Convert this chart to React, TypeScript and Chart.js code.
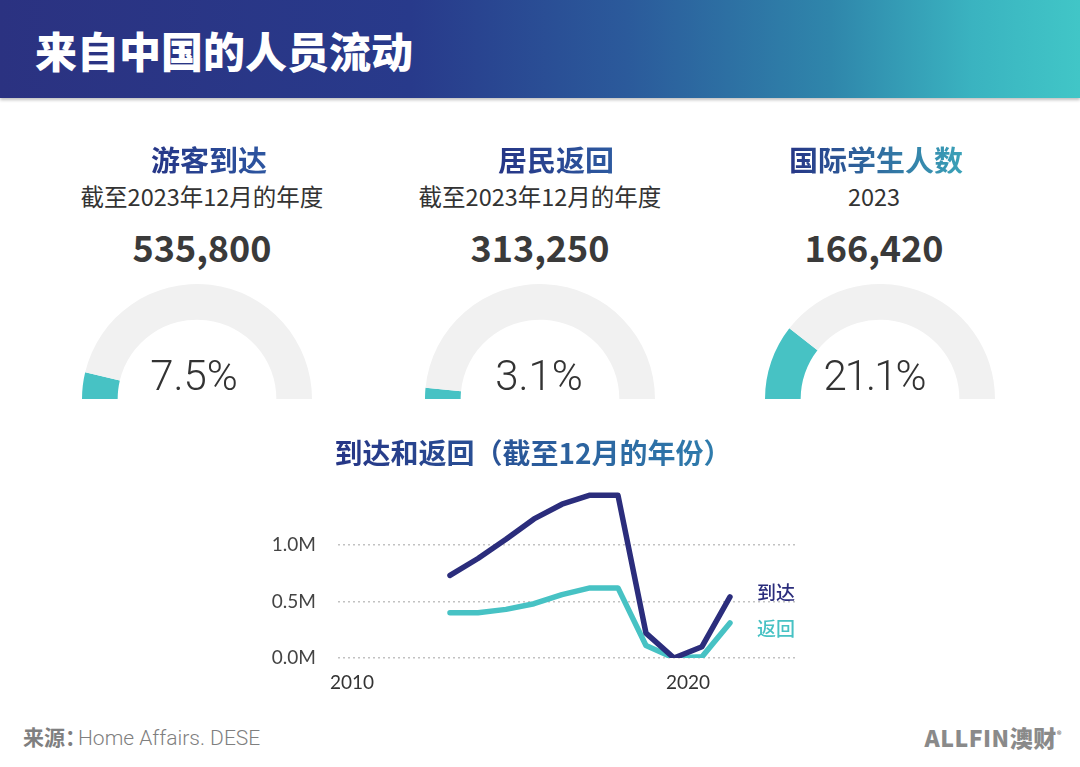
import React, { useEffect, useRef } from 'react';
import { Chart, registerables } from 'chart.js';

Chart.register(...registerables);

// ---- Data ----
const YEARS = [2013, 2014, 2015, 2016, 2017, 2018, 2019, 2020, 2021, 2022, 2023];
const ARRIVALS = [0.73, 0.88, 1.05, 1.23, 1.36, 1.44, 1.44, 0.22, 0.0, 0.1, 0.54];
const RETURNS = [0.4, 0.4, 0.43, 0.48, 0.56, 0.62, 0.62, 0.11, 0.0, 0.01, 0.31];
const SERIES_NAMES = ['到达', '返回'];
const Y_TICKS = [0, 0.5, 1.0];
const X_TICK_VALUES = [2009.5, 2021.5];
const X_TICK_LABELS = ['2010', '2020'];

const GAUGE_TITLES = ['游客到达', '居民返回', '国际学生人数'];
const GAUGE_SUBTITLES = ['截至2023年12月的年度', '截至2023年12月的年度', '2023'];
const GAUGE_NUMBERS = ['535,800', '313,250', '166,420'];
const GAUGE_PCTS = [7.5, 3.1, 21.1];

const NAVY = '#2b2d7c';
const TEAL = '#47c2c4';
const CJK = '"Noto Sans CJK SC", "Noto Sans", sans-serif';

const abs = (cx: number, cy: number, extra: React.CSSProperties): React.CSSProperties => ({
  position: 'absolute',
  left: cx,
  top: cy,
  transform: 'translate(-50%, -50%)',
  whiteSpace: 'nowrap',
  lineHeight: 1,
  fontFamily: CJK,
  ...extra,
});

const gradText = (from: string, to: string): React.CSSProperties => ({
  backgroundImage: `linear-gradient(90deg, ${from}, ${to})`,
  WebkitBackgroundClip: 'text',
  backgroundClip: 'text',
  color: 'transparent',
});

function Gauge({ pct, left, top }: { pct: number; left: number; top: number }) {
  const ref = useRef<HTMLCanvasElement>(null);
  useEffect(() => {
    if (!ref.current) return;
    const chart = new Chart(ref.current, {
      type: 'doughnut',
      data: {
        labels: ['value', 'rest'],
        datasets: [
          {
            data: [pct, 100 - pct],
            backgroundColor: [TEAL, '#f1f1f1'],
            borderWidth: 0,
            hoverOffset: 0,
          },
        ],
      },
      options: {
        responsive: false,
        animation: false,
        devicePixelRatio: 1,
        rotation: -90,
        circumference: 180,
        cutout: '69%',
        plugins: { legend: { display: false }, tooltip: { enabled: false } },
        events: [],
      },
    });
    return () => chart.destroy();
  }, [pct]);
  return (
    <canvas
      ref={ref}
      width={230}
      height={115}
      style={{ position: 'absolute', left, top, width: 230, height: 115 }}
    />
  );
}

function LineChart() {
  const ref = useRef<HTMLCanvasElement>(null);
  useEffect(() => {
    if (!ref.current) return;
    const endLabels = {
      id: 'endLabels',
      afterDatasetsDraw(chart: any) {
        const ctx = chart.ctx;
        const offsets = [-4, 6];
        const colors = [NAVY, TEAL];
        chart.data.datasets.forEach((_ds: any, i: number) => {
          const meta = chart.getDatasetMeta(i);
          const pt = meta.data[meta.data.length - 1];
          ctx.save();
          ctx.font = `500 19px ${CJK}`;
          ctx.fillStyle = colors[i];
          ctx.textAlign = 'left';
          ctx.textBaseline = 'middle';
          ctx.fillText(SERIES_NAMES[i], pt.x + 27, pt.y + offsets[i]);
          ctx.restore();
        });
      },
    };
    const chart = new Chart(ref.current, {
      type: 'line',
      data: {
        datasets: [
          {
            label: SERIES_NAMES[0],
            data: YEARS.map((y, i) => ({ x: y, y: ARRIVALS[i] })),
            borderColor: NAVY,
            borderWidth: 5.5,
            pointRadius: 0,
            tension: 0,
            borderJoinStyle: 'round',
            borderCapStyle: 'round',
          },
          {
            label: SERIES_NAMES[1],
            data: YEARS.map((y, i) => ({ x: y, y: RETURNS[i] })),
            borderColor: TEAL,
            borderWidth: 5.5,
            pointRadius: 0,
            tension: 0,
            borderJoinStyle: 'round',
            borderCapStyle: 'round',
          },
        ],
      },
      options: {
        responsive: false,
        animation: false,
        devicePixelRatio: 1,
        events: [],
        layout: { padding: { top: 0, right: 22, left: 0, bottom: 0 } },
        plugins: { legend: { display: false }, tooltip: { enabled: false } },
        scales: {
          x: {
            type: 'linear',
            min: 2009,
            max: 2025.43,
            grid: { display: false, drawTicks: false },
            border: { display: false },
            afterBuildTicks: (scale: any) => {
              scale.ticks = X_TICK_VALUES.map((v) => ({ value: v }));
            },
            afterFit: (scale: any) => {
              scale.height = 42;
            },
            ticks: {
              autoSkip: false,
              maxRotation: 0,
              padding: 13,
              color: '#333',
              font: { family: 'Lato', size: 19 },
              callback: (_v: any, i: number) => X_TICK_LABELS[i],
            },
          },
          y: {
            min: 0,
            max: 1.5,
            grid: { color: '#c2c2c2', lineWidth: 1.5, drawTicks: false },
            border: { display: false, dash: [2, 3] },
            afterBuildTicks: (scale: any) => {
              scale.ticks = Y_TICKS.map((v) => ({ value: v }));
            },
            afterFit: (scale: any) => {
              scale.width = 78;
            },
            ticks: {
              padding: 22,
              color: '#444',
              font: { family: 'Lato', size: 19 },
              callback: (v: any) => Number(v).toFixed(1) + 'M',
            },
          },
        },
      },
      plugins: [endLabels],
    });
    return () => chart.destroy();
  }, []);
  return (
    <canvas
      ref={ref}
      width={560}
      height={245}
      style={{ position: 'absolute', left: 260, top: 455, width: 560, height: 245 }}
    />
  );
}

export default function App() {
  const colCenters = [202, 540, 874];
  const titleCenters = [209, 556, 876];
  const gaugeCenters = [197, 540, 880];
  const pctCenters = [194, 539, 874];
  const titleGrads: [string, string][] = [
    ['#263586', '#2d56a0'],
    ['#263586', '#2d5aa0'],
    ['#263586', '#3aa2b8'],
  ];
  return (
    <div
      style={{
        position: 'absolute',
        left: 0,
        top: 0,
        width: 1080,
        height: 767,
        background: '#ffffff',
        overflow: 'hidden',
        fontFamily: CJK,
      }}
    >
      {/* Header */}
      <div
        style={{
          position: 'absolute',
          left: 0,
          top: 0,
          width: 1080,
          height: 98,
          background:
            'linear-gradient(90deg, #2b3281 0%, #283a8b 38%, #2b5a9b 58%, #2f86ab 77%, #3ab3c0 90%, #41c6c7 100%)',
          boxShadow: '0 2px 3px rgba(0,0,0,0.25)',
        }}
      />
      <div
        style={{
          position: 'absolute',
          left: 35,
          top: 50,
          transform: 'translateY(-50%)',
          color: '#ffffff',
          fontSize: 42,
          fontWeight: 900,
          lineHeight: 1,
          whiteSpace: 'nowrap',
          fontFamily: CJK,
        }}
      >
        来自中国的人员流动
      </div>

      {/* Gauge sections */}
      {GAUGE_TITLES.map((t, i) => (
        <React.Fragment key={t}>
          <div style={abs(titleCenters[i], 159, { fontSize: 29, fontWeight: 700, ...gradText(titleGrads[i][0], titleGrads[i][1]) })}>
            {t}
          </div>
          <div style={abs(colCenters[i], 197, { fontSize: 23.5, fontWeight: 400, color: '#333' })}>
            {GAUGE_SUBTITLES[i]}
          </div>
          <div style={abs(colCenters[i], 246, { fontSize: 36, fontWeight: 700, color: '#3a3a3a' })}>
            {GAUGE_NUMBERS[i]}
          </div>
          <Gauge pct={GAUGE_PCTS[i]} left={gaugeCenters[i] - 115} top={284} />
          <div
            style={abs(pctCenters[i], 376, {
              fontSize: 42,
              fontWeight: 300,
              color: '#333',
              fontFamily: 'Roboto, "Noto Sans", sans-serif',
              letterSpacing: i === 2 ? -2 : 0,
            })}
          >
            {GAUGE_PCTS[i].toFixed(1)}%
          </div>
        </React.Fragment>
      ))}

      {/* Line chart title */}
      <div style={abs(533, 452, { fontSize: 28, fontWeight: 700, ...gradText('#263586', '#2f7fae') })}>
        到达和返回（截至12月的年份）
      </div>

      <LineChart />

      {/* Footer */}
      <div
        style={{
          position: 'absolute',
          left: 23,
          top: 737,
          transform: 'translateY(-50%)',
          whiteSpace: 'nowrap',
          lineHeight: 1,
          color: '#7f7f7f',
          fontSize: 21,
        }}
      >
        <span style={{ fontFamily: CJK, fontWeight: 700 }}>来源：</span>
        <span style={{ fontFamily: 'Roboto, sans-serif', fontWeight: 300, marginLeft: -8 }}>Home Affairs. DESE</span>
      </div>
      <div
        style={{
          position: 'absolute',
          right: 18,
          top: 737,
          transform: 'translateY(-50%)',
          whiteSpace: 'nowrap',
          lineHeight: 1,
          color: '#8a8a8a',
          fontSize: 23,
          fontWeight: 800,
          fontFamily: CJK,
          letterSpacing: 0.5,
        }}
      >
        ALLFIN澳财<sup style={{ fontSize: 9 }}>®</sup>
      </div>
    </div>
  );
}
